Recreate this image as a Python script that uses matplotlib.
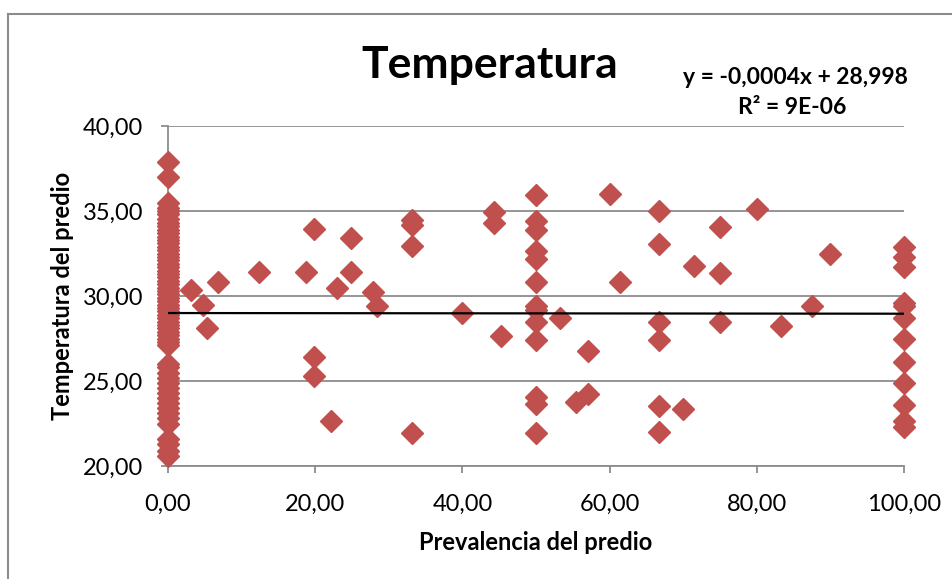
import matplotlib
matplotlib.use("Agg")
import matplotlib.pyplot as plt
import numpy as np
from matplotlib.lines import Line2D

plt.rcParams['font.family'] = ['Lato', 'DejaVu Sans']

# x = 0 column
x_zero_temps = [37.9, 37.0, 35.5, 35.2, 35.0, 34.8, 34.55, 34.3, 34.1, 33.9, 33.7, 33.5,
                33.3, 33.1, 32.9, 32.7, 32.5, 32.3, 32.1, 31.9, 31.7, 31.5, 31.3, 31.1,
                30.9, 30.7, 30.5, 30.3, 30.1, 29.9, 29.7, 29.5, 29.3, 29.1, 28.9, 28.7,
                28.5, 28.3, 28.1, 27.9, 27.7, 27.5, 27.3, 27.1, 26.0, 25.8, 25.5, 25.2,
                24.9, 24.6, 24.3, 24.0, 23.7, 23.4, 23.1, 22.8, 22.5, 21.6, 21.3, 20.9, 20.6]

# remaining points (prevalence, temperature)
prev_other = [3.1, 4.7, 6.8, 5.3, 12.4, 18.7, 19.9, 19.9, 19.9, 22.1, 23.0, 24.9, 24.9,
              27.8, 28.4, 33.2, 33.2, 33.2, 33.2, 40.0,
              44.3, 44.3, 45.3, 50.0, 50.0, 50.0, 50.0, 50.0, 50.0, 50.0, 50.0, 50.0,
              50.0, 50.0, 50.0, 50.0, 53.2, 55.4, 57.0, 57.0, 60.0, 61.4,
              66.7, 66.7, 66.7, 66.7, 66.7, 66.7, 70.0, 71.4, 75.0, 75.0, 75.0,
              80.0, 83.3, 87.5, 90.0,
              100.0, 100.0, 100.0, 100.0, 100.0, 100.0, 100.0, 100.0, 100.0, 100.0,
              100.0, 100.0]
temp_other = [30.35, 29.5, 30.8, 28.1, 31.43, 31.43, 33.92, 26.4, 25.3, 22.65, 30.47, 33.4, 31.43,
              30.25, 29.43, 34.47, 34.18, 32.96, 21.96, 29.02,
              34.96, 34.27, 27.65, 35.92, 34.41, 33.88, 32.67, 32.18, 30.84, 29.43, 29.18, 28.49,
              27.39, 24.04, 23.65, 21.96, 28.7, 23.78, 26.76, 24.24, 36.0, 30.8,
              35.02, 33.04, 28.45, 27.41, 23.55, 21.98, 23.37, 31.74, 34.08, 31.35, 28.47,
              35.1, 28.25, 29.41, 32.49,
              32.86, 32.31, 31.73, 29.6, 29.4, 28.69, 27.47, 26.12, 24.9, 23.59, 22.67, 22.31]

slope = -0.0004
intercept = 28.998
x_ticks = [0, 20, 40, 60, 80, 100]
y_ticks = [20, 25, 30, 35, 40]

W, H = 953, 579
fig = plt.figure(figsize=(W / 100, H / 100), dpi=100)
ax = fig.add_axes([168 / W, 1 - 466 / H, (904 - 168) / W, (466 - 126) / H])

marker_color = '#C0504D'
ax.plot([0] * len(x_zero_temps), x_zero_temps, linestyle='none', marker='D', ms=11.5,
        color=marker_color, mec=marker_color, clip_on=False, zorder=3)
ax.plot(prev_other, temp_other, linestyle='none', marker='D', ms=11.5,
        color=marker_color, mec=marker_color, clip_on=False, zorder=3)

xl = np.array([0, 100])
ax.plot(xl, intercept + slope * xl, color='black', lw=1.6, zorder=4)

ax.set_xlim(0, 100)
ax.set_ylim(20, 40)
ax.set_xticks(x_ticks)
ax.set_yticks(y_ticks)
ax.set_xticklabels([f"{v:.2f}".replace('.', ',') for v in x_ticks], fontsize=17)
ax.set_yticklabels([f"{v:.2f}".replace('.', ',') for v in y_ticks], fontsize=17)
ax.grid(axis='y', color='#8c8c8c', lw=1.3)
ax.set_axisbelow(True)
for s in ['top', 'right']:
    ax.spines[s].set_visible(False)
for s in ['left', 'bottom']:
    ax.spines[s].set_color('#8c8c8c')
    ax.spines[s].set_linewidth(1.3)
ax.tick_params(axis='both', direction='out', length=5, color='#8c8c8c', width=1.3)
ax.tick_params(axis='y', pad=13)
ax.tick_params(axis='x', pad=15)

ax.set_xlabel('Prevalencia del predio', fontsize=17, fontweight='bold', labelpad=12)
ax.set_ylabel('Temperatura del predio', fontsize=17, fontweight='bold', labelpad=6)

fig.text(490 / W, 1 - 65 / H, 'Temperatura', fontsize=32, fontweight='bold',
         ha='center', va='center')
fig.text(795 / W, 1 - 77 / H, 'y = -0,0004x + 28,998', fontsize=16.5, fontweight='bold',
         ha='center', va='center')
fig.text(792 / W, 1 - 107 / H, 'R² = 9E-06', fontsize=16.5, fontweight='bold',
         ha='center', va='center')

# chart area border (top and left visible)
fig.add_artist(Line2D([8.5 / W, 1.0], [1 - 13.5 / H, 1 - 13.5 / H], transform=fig.transFigure,
                      color='#8c8c8c', lw=1.5))
fig.add_artist(Line2D([8.5 / W, 8.5 / W], [0, 1 - 13.5 / H], transform=fig.transFigure,
                      color='#8c8c8c', lw=1.5))

fig.savefig('out.png', dpi=100)
